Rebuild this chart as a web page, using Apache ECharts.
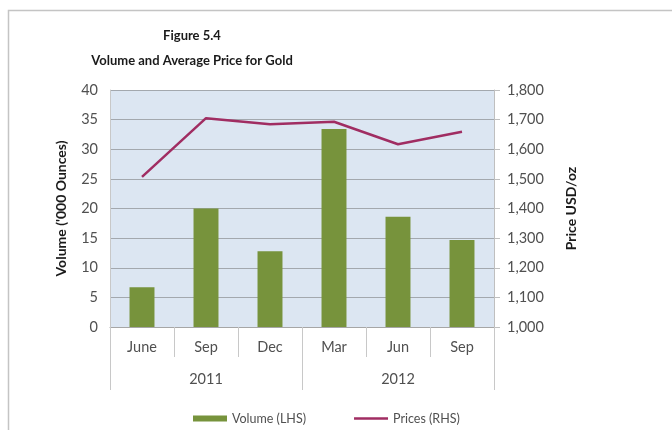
<!DOCTYPE html>
<html>
<head>
<meta charset="utf-8">
<script src="https://cdn.jsdelivr.net/npm/echarts@6/dist/echarts.min.js"></script>
<style>
  html, body { margin: 0; padding: 0; background: #ffffff; }
  #chart { width: 672px; height: 430px; }
</style>
</head>
<body>
<div id="chart"></div>
<script>
// Quarter labels, grouped by year on a second axis row
const months = ['June', 'Sep', 'Dec', 'Mar', 'Jun', 'Sep'];
const years = ['2011', '2012'];
// Trading volume, thousand ounces (left axis)
const volume = [6.7, 20.0, 12.8, 33.4, 18.6, 14.7];
// Average gold price, USD per ounce (right axis)
const prices = [1507, 1705, 1684, 1693, 1617, 1659];

const FONT = 'Lato, "Open Sans", sans-serif';
const GRAY_TEXT = '#505050';
const BAR_COLOR = '#77933c';
const LINE_COLOR = '#a02d62';

const chart = echarts.init(document.getElementById('chart'), null, { renderer: 'canvas' });

chart.setOption({
  animation: false,
  backgroundColor: '#ffffff',
  textStyle: { fontFamily: FONT },
  title: {
    text: 'Figure 5.4\nVolume and Average Price for Gold',
    left: 187,
    top: 18,
    textAlign: 'center',
    textStyle: { fontFamily: FONT, fontWeight: 'bold', fontSize: 13, lineHeight: 25, color: '#1a1a1a' }
  },
  graphic: [{
    type: 'rect',
    shape: { x: 8.5, y: 10.5, width: 700, height: 440 },
    style: { fill: 'none', stroke: '#c4c4c4', lineWidth: 1.5 },
    silent: true
  }],
  legend: {
    left: 188,
    top: 407,
    itemWidth: 34,
    itemHeight: 6,
    itemGap: 48,
    textStyle: { fontFamily: FONT, fontSize: 12.5, color: GRAY_TEXT },
    data: [
      { name: 'Volume (LHS)', icon: 'rect' },
      { name: 'Prices (RHS)', icon: 'path://M0,0 L34,0 L34,2.5 L0,2.5 Z' }
    ]
  },
  grid: {
    left: 110, right: 178, top: 90, bottom: 103,
    show: true, backgroundColor: '#dce6f2', borderWidth: 0
  },
  xAxis: [{
    type: 'category',
    data: months,
    position: 'bottom',
    boundaryGap: true,
    axisLine: { show: true, lineStyle: { color: '#a6a6a6', width: 1 } },
    axisTick: { show: true, interval: 0, length: 30, lineStyle: { color: '#c8c8c8' } },
    axisLabel: { interval: 0, margin: 13, fontFamily: FONT, fontSize: 14.5, color: GRAY_TEXT }
  }, {
    type: 'category',
    data: years,
    position: 'bottom',
    boundaryGap: true,
    axisLine: { show: false },
    axisTick: { show: true, interval: 0, length: 63, lineStyle: { color: '#c8c8c8' } },
    axisLabel: { interval: 0, margin: 45, fontFamily: FONT, fontSize: 14.5, color: GRAY_TEXT }
  }],
  yAxis: [{
    type: 'value',
    min: 0, max: 40, interval: 5,
    position: 'left',
    name: "Volume ('000 Ounces)",
    nameLocation: 'middle',
    nameGap: 42,
    nameTextStyle: { fontFamily: FONT, fontWeight: 'bold', fontSize: 14, color: '#1a1a1a' },
    axisLine: { show: true, lineStyle: { color: '#c8c8c8' } },
    axisTick: { show: false },
    axisLabel: { margin: 12, fontFamily: FONT, fontSize: 14.5, color: GRAY_TEXT },
    splitLine: { show: true, lineStyle: { color: '#a3a8ae', width: 1 } }
  }, {
    type: 'value',
    min: 1000, max: 1800, interval: 100,
    position: 'right',
    name: 'Price USD/oz',
    nameLocation: 'middle',
    nameGap: 70,
    nameTextStyle: { fontFamily: FONT, fontWeight: 'bold', fontSize: 14, color: '#1a1a1a' },
    axisLine: { show: true, lineStyle: { color: '#bfbfbf' } },
    axisTick: { show: true, length: 6, lineStyle: { color: '#bfbfbf' } },
    axisLabel: {
      margin: 13, fontFamily: FONT, fontSize: 14.5, color: GRAY_TEXT,
      formatter: v => v.toLocaleString('en-US')
    },
    splitLine: { show: false }
  }],
  series: [{
    name: 'Volume (LHS)',
    type: 'bar',
    xAxisIndex: 0,
    yAxisIndex: 0,
    data: volume,
    barWidth: '39%',
    itemStyle: { color: BAR_COLOR }
  }, {
    name: 'Prices (RHS)',
    type: 'line',
    xAxisIndex: 0,
    yAxisIndex: 1,
    data: prices,
    symbol: 'none',
    lineStyle: { color: LINE_COLOR, width: 2.5 },
    itemStyle: { color: LINE_COLOR }
  }]
});
</script>
</body>
</html>
